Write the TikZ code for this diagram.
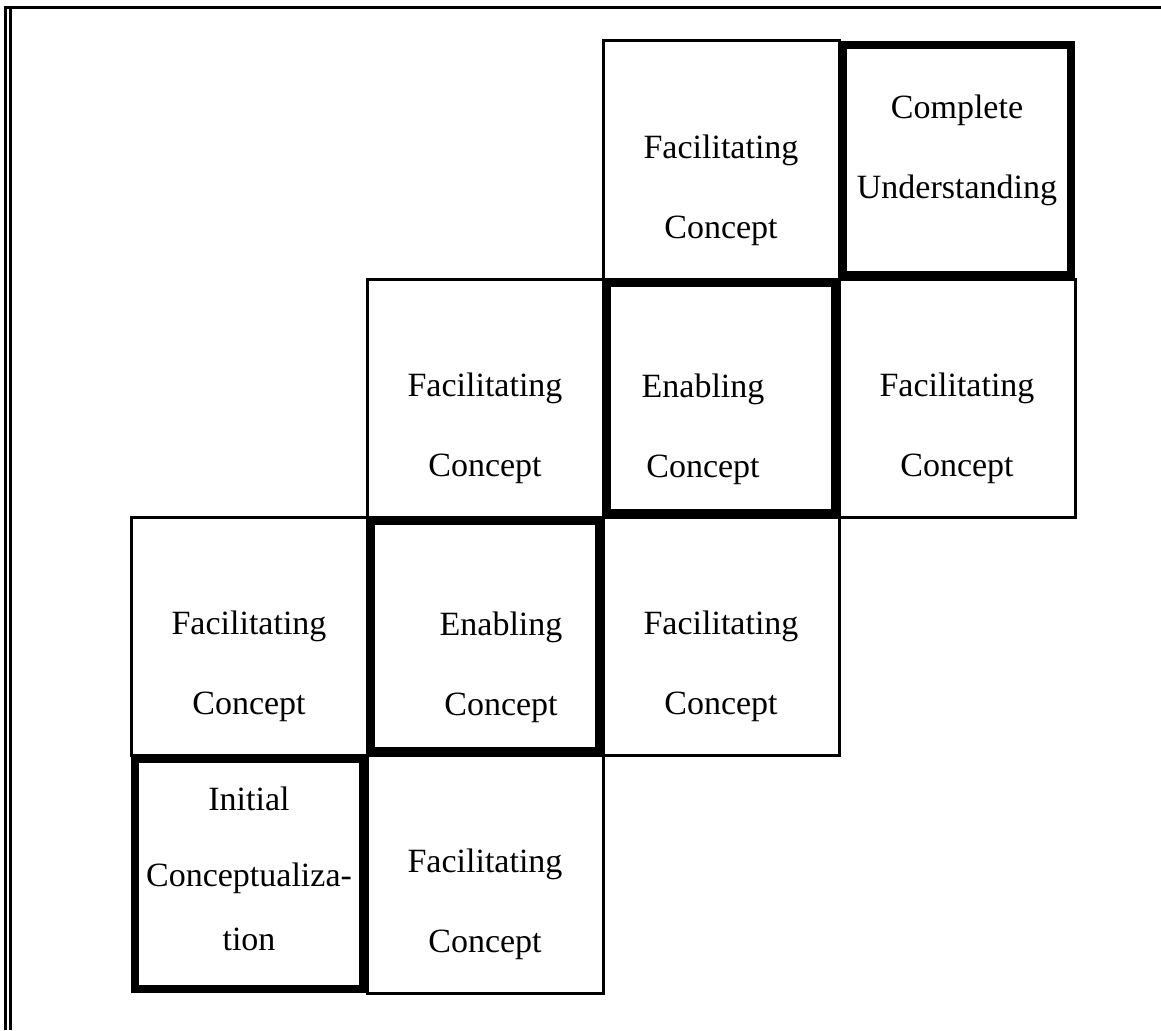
\documentclass[tikz,border=0pt]{standalone}
\usepackage{fontspec}
\setmainfont{Liberation Serif}
\usetikzlibrary{positioning}

\begin{document}
\begin{tikzpicture}[
    x=1pt, y=-1pt,
    conceptnode/.style={rectangle, draw=black, line width=3pt, outer sep=0pt, minimum width=236pt, minimum height=238pt},
    keynode/.style={rectangle, draw=black, line width=8pt, outer sep=4pt, minimum width=228pt, minimum height=230pt},
    conceptlabel/.style={align=center, inner sep=0pt, font=\fontsize{34}{80}\selectfont}
]
\useasboundingbox (0,0) rectangle (1161,1030);
% frame
\draw[line width=2.7pt] (5.3,1030) -- (5.3,7.3) -- (1161,7.3);
\draw[line width=3pt] (10.2,8.7) -- (10.2,1030);
% cells, from the bottom left
\node[keynode, anchor=north west](init) at (131,755){};
\node[conceptnode](fac1)[right = 0pt of init]{};
\node[conceptnode](fac2)[above = 0pt of init]{};
\node[keynode](enab1)[right = 0pt of fac2]{};
\node[conceptnode](fac3)[right = 0pt of enab1]{};
\node[conceptnode](fac4)[above = 0pt of enab1]{};
\node[keynode](enab2)[right = 0pt of fac4]{};
\node[conceptnode](fac5)[right = 0pt of enab2]{};
\node[conceptnode](fac6)[above = 0pt of enab2]{};
\node[keynode](compl)[right = 0pt of fac6]{};
% texts
\node[conceptlabel](tinit) at ([yshift=5pt]init.center){Initial\\[-4pt]Conceptualiza-\\[-16pt]tion};
\node[conceptlabel](tfac1) at ([yshift=-30pt]fac1.center){Facilitating\\Concept};
\node[conceptlabel](tfac2) at ([yshift=-30pt]fac2.center){Facilitating\\Concept};
\node[conceptlabel](tenab1) at ([xshift=16pt, yshift=-31pt]enab1.center){Enabling\\Concept};
\node[conceptlabel](tfac3) at ([yshift=-30pt]fac3.center){Facilitating\\Concept};
\node[conceptlabel](tfac4) at ([yshift=-30pt]fac4.center){Facilitating\\Concept};
\node[conceptlabel](tenab2) at ([xshift=-18pt, yshift=-31pt]enab2.center){Enabling\\Concept};
\node[conceptlabel](tfac5) at ([yshift=-30pt]fac5.center){Facilitating\\Concept};
\node[conceptlabel](tfac6) at ([yshift=-30pt]fac6.center){Facilitating\\Concept};
\node[conceptlabel](tcompl) at ([yshift=10pt]compl.center){Complete\\Understanding};
\end{tikzpicture}
\end{document}
